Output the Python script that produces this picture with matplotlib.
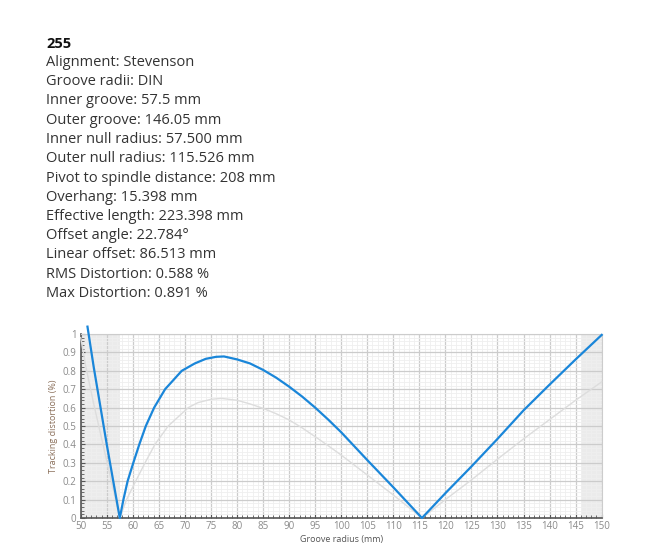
import matplotlib
matplotlib.use('Agg')
import matplotlib.pyplot as plt
from matplotlib.ticker import MultipleLocator, FuncFormatter

plt.rcParams['font.family'] = ['Open Sans', 'DejaVu Sans']

# info block
title = '255'
info_lines = [
    'Alignment: Stevenson',
    'Groove radii: DIN',
    'Inner groove: 57.5 mm',
    'Outer groove: 146.05 mm',
    'Inner null radius: 57.500 mm',
    'Outer null radius: 115.526 mm',
    'Pivot to spindle distance: 208 mm',
    'Overhang: 15.398 mm',
    'Effective length: 223.398 mm',
    'Offset angle: 22.784°',
    'Linear offset: 86.513 mm',
    'RMS Distortion: 0.588 %',
    'Max Distortion: 0.891 %',
]

# shaded regions outside the groove range
inner_groove = 57.5
outer_groove = 146.05

# selected alignment (blue)
blue_x = [51.3, 52.5, 55, 57.5, 58.2, 59.0, 60.1, 61.25, 62.5, 64.1, 66.2,
          69.4, 71.9, 74, 76, 77.5, 80, 82.5, 85, 87.5, 90, 92.5, 95, 97.5,
          100, 105, 110, 115.5, 120, 125, 130, 135, 140, 145, 150]
blue_y = [1.04, 0.82, 0.40, 0.0, 0.1, 0.2, 0.3, 0.4, 0.5, 0.6, 0.7,
          0.8, 0.84, 0.865, 0.876, 0.878, 0.862, 0.84, 0.805, 0.763, 0.714,
          0.66, 0.60, 0.535, 0.466, 0.315, 0.167, 0.0, 0.135, 0.28, 0.43,
          0.585, 0.725, 0.862, 0.995]

# reference curve (grey)
grey_x = [50, 51, 52.5, 55, 57.5, 58.8, 60.55, 62.35, 64.25, 66.8, 70.65,
          72.5, 75, 77, 80, 82.5, 85, 87.5, 90, 92.5, 95, 97.5, 100, 105,
          110, 115.5, 120, 125, 130, 135, 140, 145, 150]
grey_y = [0.98, 0.82, 0.62, 0.31, 0.0, 0.1, 0.2, 0.3, 0.4, 0.5, 0.6,
          0.627, 0.645, 0.65, 0.64, 0.62, 0.596, 0.567, 0.533, 0.49, 0.442,
          0.393, 0.342, 0.234, 0.125, 0.0, 0.1, 0.207, 0.32, 0.43, 0.535,
          0.64, 0.74]

W, H = 659, 551
fig = plt.figure(figsize=(W / 100, H / 100), dpi=100)

fig.text(46 / W, 1 - 44 / H, title, fontsize=10.5, fontweight='bold',
         color='#111111', va='center', ha='left')
for i, line in enumerate(info_lines):
    fig.text(46 / W, 1 - (62.5 + i * 19.25) / H, line, fontsize=10.5,
             color='#333333', va='center', ha='left')

ax = fig.add_axes([80.7 / W, 1 - 518 / H, 521 / W, 184 / H])
ax.set_xlim(50, 150)
ax.set_ylim(0, 1)

ax.axvspan(50, inner_groove, color='#ebebeb', zorder=0, lw=0)
ax.axvspan(outer_groove, 150, color='#ebebeb', zorder=0, lw=0)

ax.xaxis.set_major_locator(MultipleLocator(5))
ax.xaxis.set_minor_locator(MultipleLocator(1))
ax.yaxis.set_major_locator(MultipleLocator(0.1))
ax.yaxis.set_minor_locator(MultipleLocator(0.02))


def ylab(v, pos):
    if abs(v) < 1e-9:
        return '0'
    if abs(v - 1) < 1e-9:
        return '1'
    return f'{v:.1f}'


ax.yaxis.set_major_formatter(FuncFormatter(ylab))

ax.grid(True, which='major', color='#cccccc', lw=0.9, zorder=1)
ax.grid(True, which='minor', color='#efefef', lw=0.6, zorder=1)
ax.set_axisbelow(True)

ax.plot(grey_x, grey_y, color='#dddddd', lw=1.0, zorder=3, clip_on=False)
ax.plot(blue_x, blue_y, color='#1a86d9', lw=1.6, zorder=4, clip_on=False)

for s in ['top', 'right']:
    ax.spines[s].set_color('#cccccc')
    ax.spines[s].set_linewidth(0.8)
for s in ['left', 'bottom']:
    ax.spines[s].set_color('#555555')
    ax.spines[s].set_linewidth(1.2)

ax.tick_params(which='both', direction='in', colors='#555555', labelcolor='#8a8a8a',
               labelsize=7)
ax.tick_params(axis='x', pad=2.5)
ax.tick_params(axis='y', pad=3)
ax.tick_params(which='major', length=3, width=0.8)
ax.tick_params(which='minor', length=2, width=0.6)

ax.set_xlabel('Groove radius (mm)', fontsize=6.5, color='#555555', labelpad=2)
ax.set_ylabel('Tracking distortion (%)', fontsize=6.5, color='#8a6f5a', labelpad=3)

fig.savefig('out.png', dpi=100)
